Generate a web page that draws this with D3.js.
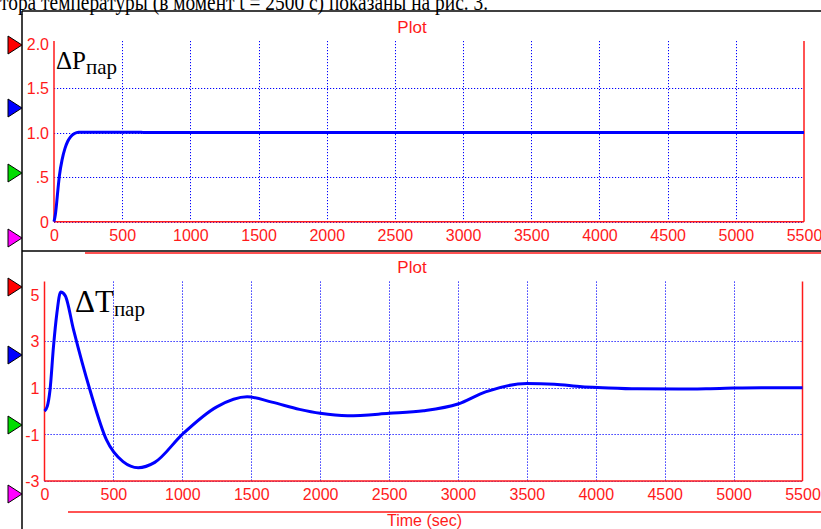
<!DOCTYPE html>
<html>
<head>
<meta charset="utf-8">
<script src="https://cdn.jsdelivr.net/npm/d3@7"></script>
<style>
  body { margin: 0; background: #fff; }
  svg { display: block; }
</style>
</head>
<body>
<svg id="chart"></svg>
<script>
// ---- data ----
const xTicks = [0, 500, 1000, 1500, 2000, 2500, 3000, 3500, 4000, 4500, 5000, 5500];

const pTicks = [0, 0.5, 1.0, 1.5, 2.0];
const pTickLabels = ['0', '.5', '1.0', '1.5', '2.0'];
const pTime  = [0, 10, 20, 30, 40, 60, 80, 100, 120, 150, 180, 640, 660, 5500];
const pValue = [0, 0.08, 0.22, 0.38, 0.52, 0.70, 0.82, 0.90, 0.95, 0.99, 1.005, 1.005, 1.0, 1.0];

const tTicks = [-3, -1, 1, 3, 5];
const tTickLabels = ['-3', '-1', '1', '3', '5'];
const tTime  = [0, 20, 40, 65, 90, 117, 150, 210, 330, 450, 570, 680, 800, 1000, 1250, 1470,
                1650, 1850, 2000, 2200, 2500, 2750, 3000, 3200, 3500, 3700, 3900, 4050, 4300,
                4600, 4900, 5200, 5500];
const tValue = [0, 0.2, 0.9, 2.75, 4.2, 5.1, 4.95, 3.5, 0.9, -1.24, -2.17, -2.43, -2.2, -1.0, 0.18, 0.61,
                0.38, 0.07, -0.1, -0.2, -0.1, 0.01, 0.3, 0.82, 1.18, 1.15, 1.04, 1.0, 0.95,
                0.94, 0.97, 1.0, 1.0];

const markerColors = ['#ff0000', '#0000ff', '#00dd00', '#ff00ff'];

const config = {
  width: 821,
  height: 529,
  red: '#ff1a1a',
  blue: '#0000ff'
};

const svg = d3.select('#chart')
  .attr('width', config.width)
  .attr('height', config.height)
  .style('font-family', 'Liberation Sans, Arial, sans-serif');

svg.append('rect').attr('width', config.width).attr('height', config.height).attr('fill', '#fff');

// document text cut at the top
svg.append('text')
  .attr('x', 0).attr('y', 10)
  .attr('textLength', 488)
  .attr('lengthAdjust', 'spacingAndGlyphs')
  .style('font-family', 'Liberation Serif, Times New Roman, serif')
  .style('font-size', '23px')
  .attr('fill', '#000')
  .text('тора температуры (в момент t = 2500 с) показаны на рис. 3.');

// frame lines
const frame = svg.append('g').attr('stroke', '#000').attr('stroke-width', 1.5);
frame.append('line').attr('x1', 22).attr('x2', 821).attr('y1', 11).attr('y2', 11);
frame.append('line').attr('x1', 22).attr('x2', 22).attr('y1', 11).attr('y2', 529);
frame.append('line').attr('x1', 22).attr('x2', 821).attr('y1', 251).attr('y2', 251);

svg.append('line').attr('x1', 85).attr('x2', 821).attr('y1', 253).attr('y2', 253)
  .attr('stroke', config.red).attr('stroke-width', 1.5);
svg.append('line').attr('x1', 68).attr('x2', 821).attr('y1', 512).attr('y2', 512)
  .attr('stroke', config.red).attr('stroke-width', 1.5);

function drawMarkers(ys) {
  ys.forEach(function (y, i) {
    svg.append('path')
      .attr('d', `M8,${y - 9}L22,${y}L8,${y + 9}Z`)
      .attr('fill', markerColors[i])
      .attr('stroke', '#000')
      .attr('stroke-width', 1);
  });
}

function drawPanel(opt) {
  const x = d3.scaleLinear().domain([0, 5500]).range(opt.xRange);
  const y = d3.scaleLinear().domain(opt.yDomain).range(opt.yRange);
  const g = svg.append('g');
  const bottom = y(opt.yDomain[0]);

  // grid
  const grid = g.append('g')
    .attr('stroke', config.blue)
    .attr('stroke-width', 1)
    .attr('stroke-dasharray', '1.2,1.8');
  grid.selectAll('.vgrid')
    .data(xTicks.slice(1, -1))
    .enter().append('line')
    .attr('x1', d => Math.round(x(d)) + 0.5).attr('x2', d => Math.round(x(d)) + 0.5)
    .attr('y1', opt.top).attr('y2', bottom);
  grid.selectAll('.hgrid')
    .data(opt.ticks.slice(0, -1))
    .enter().append('line')
    .attr('x1', x(0)).attr('x2', x(5500))
    .attr('y1', d => Math.round(y(d)) + 0.5).attr('y2', d => Math.round(y(d)) + 0.5);

  // axes
  const xAxis = d3.axisBottom(x).tickValues(xTicks).tickSize(0).tickPadding(8)
    .tickFormat(d3.format('d'));
  const xg = g.append('g').attr('transform', `translate(0,${bottom})`).call(xAxis);
  const yAxis = d3.axisLeft(y).tickValues(opt.ticks).tickSize(0).tickPadding(opt.yPad)
    .tickFormat((d, i) => opt.tickLabels[i]);
  const yg = g.append('g').attr('transform', `translate(${x(0)},0)`).call(yAxis);
  [xg, yg].forEach(function (a) {
    a.select('.domain').remove();
    a.selectAll('text')
      .attr('fill', config.red)
      .style('font-size', '16px')
      .style('font-family', 'Liberation Sans, Arial, sans-serif');
  });
  yg.selectAll('text').attr('dy', '0.36em');

  g.append('line').attr('x1', x(0)).attr('x2', x(0)).attr('y1', opt.top).attr('y2', bottom)
    .attr('stroke', config.red).attr('stroke-width', 1.5);
  g.append('line').attr('x1', x(5500)).attr('x2', x(5500)).attr('y1', opt.top).attr('y2', bottom)
    .attr('stroke', config.red).attr('stroke-width', 1.5);
  g.append('line').attr('x1', x(0)).attr('x2', x(5500)).attr('y1', bottom).attr('y2', bottom)
    .attr('stroke', config.red).attr('stroke-width', 1.5);

  // series
  const line = d3.line()
    .x(d => x(d[0]))
    .y(d => y(d[1]))
    .curve(d3.curveMonotoneX);
  g.append('path')
    .datum(d3.zip(opt.time, opt.value))
    .attr('d', line)
    .attr('fill', 'none')
    .attr('stroke', config.blue)
    .attr('stroke-width', 3)
    .attr('stroke-linejoin', 'round');

  // title
  g.append('text')
    .attr('x', 412).attr('y', opt.titleY)
    .attr('text-anchor', 'middle')
    .attr('fill', config.red)
    .style('font-size', '17px')
    .text('Plot');

  // symbol label
  const lab = g.append('text')
    .attr('x', opt.labX).attr('y', opt.labY)
    .style('font-family', 'Liberation Serif, Times New Roman, serif')
    .attr('fill', '#000');
  lab.append('tspan').style('font-size', opt.labSize + 'px').text(opt.label);
  lab.append('tspan').style('font-size', opt.subSize + 'px').attr('dy', opt.subDy).text('пар');
}

drawMarkers([45, 108, 173, 238]);
drawMarkers([287, 355, 425, 494]);

drawPanel({
  xRange: [54, 804],
  yDomain: [0, 2],
  yRange: [221.7, 43.5],
  top: 41,
  ticks: pTicks,
  tickLabels: pTickLabels,
  yPad: 5,
  time: pTime,
  value: pValue,
  titleY: 33,
  label: 'ΔP',
  labX: 56, labY: 69, labSize: 25, subSize: 21, subDy: 5
});

drawPanel({
  xRange: [44.5, 802.5],
  yDomain: [-3, 5],
  yRange: [481, 294.4],
  top: 281.5,
  ticks: tTicks,
  tickLabels: tTickLabels,
  yPad: 5,
  time: tTime,
  value: tValue,
  titleY: 273,
  label: 'ΔT',
  labX: 75, labY: 312, labSize: 31, subSize: 21, subDy: 4
});

svg.append('text')
  .attr('x', 424.5).attr('y', 525.5)
  .attr('text-anchor', 'middle')
  .attr('fill', config.red)
  .style('font-size', '16px')
  .text('Time (sec)');
</script>
</body>
</html>
